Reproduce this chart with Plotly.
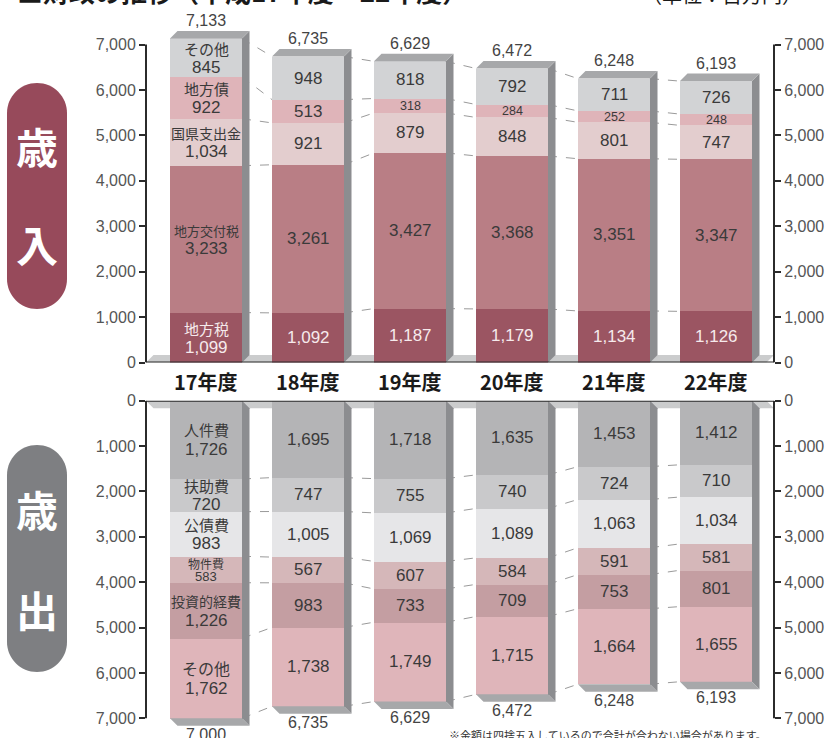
import plotly.graph_objects as go

# ---------------- data ----------------
years = ["17年度", "18年度", "19年度", "20年度", "21年度", "22年度"]

rev_names = ["地方税", "地方交付税", "国県支出金", "地方債", "その他"]
rev_chihouzei = [1099, 1092, 1187, 1179, 1134, 1126]
rev_koufuzei = [3233, 3261, 3427, 3368, 3351, 3347]
rev_shishutsukin = [1034, 921, 879, 848, 801, 747]
rev_chihousai = [922, 513, 318, 284, 252, 248]
rev_sonota = [845, 948, 818, 792, 711, 726]
rev_totals = [7133, 6735, 6629, 6472, 6248, 6193]

exp_names = ["人件費", "扶助費", "公債費", "物件費", "投資的経費", "その他"]
exp_jinkenhi = [1726, 1695, 1718, 1635, 1453, 1412]
exp_fujohi = [720, 747, 755, 740, 724, 710]
exp_kousaihi = [983, 1005, 1069, 1089, 1063, 1034]
exp_bukkenhi = [583, 567, 607, 584, 591, 581]
exp_toushi = [1226, 983, 733, 709, 753, 801]
exp_sonota = [1762, 1738, 1749, 1715, 1664, 1655]
exp_totals = [7000, 6735, 6629, 6472, 6248, 6193]

axis_ticks = [0, 1000, 2000, 3000, 4000, 5000, 6000, 7000]

title_text = "■財政の推移（平成17年度～22年度）"
unit_text = "（単位：百万円）"
note_text = "※金額は四捨五入しているので合計が合わない場合があります。"

# ---------------- styles / geometry ----------------
W, H = 834, 738
X_L, X_R = 146, 774
C0, STEP = 206, 102
BAR_W = 0.706
xr0 = (X_L - C0) / STEP
xr1 = (X_R - C0) / STEP

R_Y0, R_Y7 = 362.5, 44.5
s1 = (R_Y0 - R_Y7) / 7000.0
R_TOP_PX = 6
rev_range = [0, (R_Y0 - R_TOP_PX) / s1]
rev_domain = [1 - R_Y0 / H, 1 - R_TOP_PX / H]

E_Y0, E_Y7 = 400.7, 718.3
s2 = (E_Y7 - E_Y0) / 7000.0
exp_range = [(H - E_Y0) / s2, 0]
exp_domain = [0, 1 - E_Y0 / H]

DPX = 7.5
dx = DPX / STEP
dyv1 = DPX / s1
dyv2 = DPX / s2

rev_colors = ["#9b5562", "#b97e85", "#e3cdce", "#dfb4b9", "#d2d3d5"]
exp_colors = ["#b4b4b6", "#c9c9cb", "#e6e6e8", "#d5b7b9", "#c49ea2", "#dfb5ba"]
SIDE = "#8c8d90"
TOPF = "#a7a8aa"
FLOOR = "#cbcccd"
AXC = "#2b2b2b"
DASH_C = "#9a9a9a"
FONT = "Liberation Sans, Noto Sans CJK JP"
CJK = "Noto Sans CJK JP"

rev_series = [rev_chihouzei, rev_koufuzei, rev_shishutsukin, rev_chihousai, rev_sonota]
exp_series = [exp_jinkenhi, exp_fujohi, exp_kousaihi, exp_bukkenhi, exp_toushi, exp_sonota]
xs = list(range(len(years)))

fig = go.Figure()

for name, vals, col in zip(rev_names, rev_series, rev_colors):
    fig.add_trace(go.Bar(x=xs, y=vals, name=name, width=BAR_W, marker=dict(color=col, line=dict(width=0)),
                         xaxis="x", yaxis="y", hoverinfo="skip", showlegend=False))
for name, vals, col in zip(exp_names, exp_series, exp_colors):
    fig.add_trace(go.Bar(x=xs, y=vals, name=name, width=BAR_W, marker=dict(color=col, line=dict(width=0)),
                         xaxis="x2", yaxis="y2", hoverinfo="skip", showlegend=False))
# invisible traces to carry right-hand axes
fig.add_trace(go.Scatter(x=xs, y=rev_totals, mode="markers", marker=dict(opacity=0), xaxis="x", yaxis="y3",
                         hoverinfo="skip", showlegend=False))
fig.add_trace(go.Scatter(x=xs, y=exp_totals, mode="markers", marker=dict(opacity=0), xaxis="x2", yaxis="y4",
                         hoverinfo="skip", showlegend=False))


def cumul(series):
    n = len(series[0])
    out = []
    for i in range(n):
        c = 0
        b = []
        for s in series:
            b.append((c, c + s[i]))
            c += s[i]
        out.append(b)
    return out


rev_cum = cumul(rev_series)
exp_cum = cumul(exp_series)

shapes = []
annotations = []


def path(pts):
    return "M " + " L ".join(f"{x:.5f},{y:.5f}" for x, y in pts) + " Z"


# floor / ceiling strips
shapes.append(dict(type="path", xref="x", yref="y", layer="below", line=dict(width=0), fillcolor=FLOOR,
                   path=path([(xr0, 0), (xr1 - dx, 0), (xr1, dyv1), (xr0 + dx, dyv1)])))
shapes.append(dict(type="path", xref="x2", yref="y2", layer="below", line=dict(width=0), fillcolor=FLOOR,
                   path=path([(xr0, 0), (xr1 - dx, 0), (xr1, dyv2), (xr0 + dx, dyv2)])))

# connectors
for cum, xref, yref in [(rev_cum, "x", "y"), (exp_cum, "x2", "y2")]:
    for i in range(len(xs) - 1):
        for k in range(len(cum[i])):
            shapes.append(dict(type="line", xref=xref, yref=yref,
                               x0=xs[i] + BAR_W / 2, y0=cum[i][k][1],
                               x1=xs[i + 1] - BAR_W / 2, y1=cum[i + 1][k][1],
                               line=dict(color=DASH_C, width=1, dash="dash")))

# 3D faces
for cum, xref, yref, dv in [(rev_cum, "x", "y", dyv1), (exp_cum, "x2", "y2", dyv2)]:
    for i in xs:
        tot = cum[i][-1][1]
        xl = xs[i] - BAR_W / 2
        xr = xs[i] + BAR_W / 2
        shapes.append(dict(type="path", xref=xref, yref=yref, line=dict(width=0), fillcolor=SIDE,
                           path=path([(xr, 0), (xr + dx, dv), (xr + dx, tot + dv), (xr, tot)])))
        shapes.append(dict(type="path", xref=xref, yref=yref, line=dict(width=0), fillcolor=TOPF,
                           path=path([(xl, tot), (xr, tot), (xr + dx, tot + dv), (xl + dx, tot + dv)])))

# axis lines
for xd, yref in [("x domain", "y"), ("x2 domain", "y2")]:
    shapes.append(dict(type="line", xref=xd, yref=yref, x0=0, x1=0, y0=0, y1=7000, line=dict(color=AXC, width=2)))
    shapes.append(dict(type="line", xref=xd, yref=yref, x0=1, x1=1, y0=0, y1=7000, line=dict(color=AXC, width=2)))
    shapes.append(dict(type="line", xref=xd, yref=yref, x0=0, x1=1, y0=0, y1=0, line=dict(color=AXC, width=2)))


# pills
def pill(x0, y0, x1, y1):
    r = (x1 - x0) / 2.0
    k = 0.5523 * r
    pts = [
        ("M", [(x0, y0 + r)]),
        ("C", [(x0, y0 + r - k), (x0 + r - k, y0), (x0 + r, y0)]),
        ("C", [(x0 + r + k, y0), (x1, y0 + r - k), (x1, y0 + r)]),
        ("L", [(x1, y1 - r)]),
        ("C", [(x1, y1 - r + k), (x0 + r + k, y1), (x0 + r, y1)]),
        ("C", [(x0 + r - k, y1), (x0, y1 - r + k), (x0, y1 - r)]),
    ]
    s = ""
    for cmd, ps in pts:
        s += cmd + " " + " ".join(f"{px / W:.5f},{1 - py / H:.5f}" for px, py in ps) + " "
    return s + "Z"


shapes.append(dict(type="path", xref="paper", yref="paper", line=dict(width=0), fillcolor="#974a5b",
                   path=pill(7, 83, 67, 309)))
shapes.append(dict(type="path", xref="paper", yref="paper", line=dict(width=0), fillcolor="#7e7f82",
                   path=pill(7, 445, 67, 672)))
for ch, py in [("歳", 146), ("入", 243), ("歳", 508), ("出", 608)]:
    annotations.append(dict(text=ch, xref="paper", yref="paper", x=37 / W, y=1 - py / H, showarrow=False,
                            font=dict(family=CJK, size=42, color="white", weight="bold"),
                            xanchor="center", yanchor="middle"))

# segment labels: (name font size, number font size, line separation px)
first_bar_rev = [(15, 17, 19), (13, 17, 18), (14, 17, 19), (15, 17, 19), (15, 17, 19)]
first_bar_exp = [(15, 17, 20), (15, 17, 19), (15, 17, 19), (12, 13, 13), (14, 17, 19), (16, 17, 20)]

for cum, names, series, xref, yref, fb, first_white in [
        (rev_cum, rev_names, rev_series, "x", "y", first_bar_rev, True),
        (exp_cum, exp_names, exp_series, "x2", "y2", first_bar_exp, False)]:
    for i in xs:
        for k, (b0, b1) in enumerate(cum[i]):
            v = series[k][i]
            col = "#f6eaec" if (first_white and k == 0) else "#3a3a3a"
            mid = (b0 + b1) / 2
            if i == 0:
                nsz, vsz, sep = fb[k]
                annotations.append(dict(text=names[k], xref=xref, yref=yref, x=xs[i], y=mid, yshift=sep / 2,
                                        showarrow=False, font=dict(family=CJK, size=nsz, color=col),
                                        xanchor="center", yanchor="middle", borderpad=0))
                annotations.append(dict(text=f"{v:,}", xref=xref, yref=yref, x=xs[i], y=mid, yshift=-sep / 2,
                                        showarrow=False, font=dict(family=FONT, size=vsz, color=col),
                                        xanchor="center", yanchor="middle", borderpad=0))
            else:
                fs = 17 if v >= 500 else 12.5
                annotations.append(dict(text=f"{v:,}", xref=xref, yref=yref, x=xs[i], y=mid, showarrow=False,
                                        font=dict(family=FONT, size=fs, color=col),
                                        xanchor="center", yanchor="middle"))

# totals and year labels
for i in xs:
    annotations.append(dict(text=f"{rev_totals[i]:,}", xref="x", yref="y", x=xs[i], y=rev_cum[i][-1][1],
                            yshift=18, showarrow=False, font=dict(family=FONT, size=16, color="#444"),
                            xanchor="center", yanchor="middle"))
    annotations.append(dict(text=f"{exp_totals[i]:,}", xref="x2", yref="y2", x=xs[i], y=exp_cum[i][-1][1],
                            yshift=-16, showarrow=False, font=dict(family=FONT, size=16, color="#444"),
                            xanchor="center", yanchor="middle"))
    annotations.append(dict(text=years[i], xref="x", yref="paper", x=xs[i], y=1 - 381 / H, showarrow=False,
                            font=dict(family=CJK, size=20, color="#1a1a1a", weight="bold"),
                            xanchor="center", yanchor="middle"))

annotations.append(dict(text=title_text, xref="paper", yref="paper", x=15 / W, y=1 + 9 / H, showarrow=False,
                        font=dict(family=CJK, size=26, color="#1a1a1a", weight="bold"),
                        xanchor="left", yanchor="middle"))
annotations.append(dict(text=unit_text, xref="paper", yref="paper", x=640 / W, y=1 + 6 / H, showarrow=False,
                        font=dict(family=CJK, size=20, color="#1a1a1a"), xanchor="left", yanchor="middle"))
annotations.append(dict(text=note_text, xref="paper", yref="paper", x=608 / W, y=1 - 735 / H, showarrow=False,
                        font=dict(family=CJK, size=11, color="#333"), xanchor="center", yanchor="middle"))

tick_text = [f"{t:,}" for t in axis_ticks]
yax_common = dict(tickvals=axis_ticks, ticktext=tick_text, ticks="outside", ticklen=6, tickwidth=2,
                  tickcolor=AXC, showline=False, showgrid=False, zeroline=False, automargin=False,
                  tickfont=dict(family="Liberation Sans", size=16, color="#555"), fixedrange=True)
xax_common = dict(range=[xr0, xr1], domain=[X_L / W, X_R / W], showticklabels=False, showgrid=False,
                  zeroline=False, showline=False, ticks="", fixedrange=True, automargin=False)

fig.update_layout(
    width=W, height=H, margin=dict(l=0, r=0, t=0, b=0, pad=0, autoexpand=False),
    paper_bgcolor="white", plot_bgcolor="rgba(0,0,0,0)",
    barmode="stack", bargap=0, showlegend=False,
    xaxis=dict(anchor="y", **xax_common),
    xaxis2=dict(anchor="y2", **xax_common),
    yaxis=dict(domain=rev_domain, range=rev_range, anchor="x", side="left", **yax_common),
    yaxis3=dict(range=rev_range, overlaying="y", anchor="x", side="right", **yax_common),
    yaxis2=dict(domain=exp_domain, range=exp_range, anchor="x2", side="left", **yax_common),
    yaxis4=dict(range=exp_range, overlaying="y2", anchor="x2", side="right", **yax_common),
    shapes=shapes, annotations=annotations,
)

fig.write_html("out.html")
